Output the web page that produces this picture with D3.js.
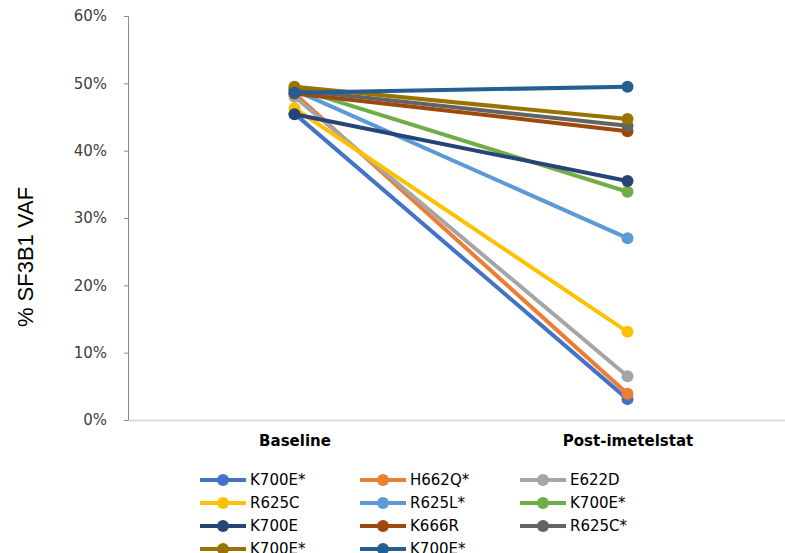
<!DOCTYPE html>
<html lang="en">
<head>
<meta charset="utf-8">
<title>SF3B1 VAF</title>
<script src="https://d3js.org/d3.v7.min.js"></script>
<style>
  body { margin: 0; background: #fff; }
  text { font-family: "Liberation Sans", Arial, sans-serif; }
</style>
</head>
<body>
<script>
// data
var timepoints = ["Baseline", "Post-imetelstat"];
var mutations = ["K700E*", "H662Q*", "E622D", "R625C", "R625L*", "K700E*", "K700E", "K666R", "R625C*", "K700E*", "K700E*"];
var baseline = [45.5, 48.5, 48.0, 46.3, 49.0, 49.3, 45.4, 48.5, 49.0, 49.5, 48.6];
var post     = [3.1, 3.9, 6.5, 13.1, 27.0, 33.9, 35.5, 42.9, 43.7, 44.7, 49.5];
var colors = ["#4472C4", "#ED7D31", "#A5A5A5", "#FFC000", "#5B9BD5", "#70AD47", "#264478", "#9E480E", "#636363", "#997300", "#255E91"];
var yTicks = [0, 10, 20, 30, 40, 50, 60];

var w = 785, h = 553;
var plotL = 128, plotR = 794, plotT = 16, plotB = 420;

var svg = d3.select("body").append("svg")
  .attr("width", w).attr("height", h);

var x = d3.scalePoint().domain(timepoints).range([plotL, plotR]).padding(0.5);
var y = d3.scaleLinear().domain([0, 60]).range([plotB, plotT]);

// y axis
var yAxis = svg.append("g").attr("transform", "translate(" + plotL + ",0)")
  .call(d3.axisLeft(y).tickValues(yTicks).tickSize(4).tickFormat(function(d) { return d + "%"; }));
yAxis.select(".domain").attr("stroke", "#8c8c8c");
yAxis.selectAll(".tick line").attr("stroke", "#8c8c8c");
yAxis.selectAll(".tick text")
  .attr("x", -21)
  .attr("fill", "#404040")
  .style("font-family", "'DejaVu Sans', sans-serif")
  .style("font-size", "15px");

// x axis
var xAxis = svg.append("g").attr("transform", "translate(0," + plotB + ")")
  .call(d3.axisBottom(x).tickSize(0).tickPadding(15));
xAxis.select(".domain").attr("stroke", "#d0d0d0").attr("stroke-width", 1.5);
xAxis.selectAll(".tick text")
  .attr("fill", "#000")
  .style("font-family", "'DejaVu Sans', sans-serif")
  .style("font-size", "15px")
  .style("font-weight", "bold");

// y title
svg.append("text")
  .attr("transform", "translate(33,257) rotate(-90)")
  .attr("text-anchor", "middle")
  .style("font-size", "22px")
  .attr("fill", "#000")
  .text("% SF3B1 VAF");

// series
var series = mutations.map(function(m, i) {
  return { name: m, color: colors[i], values: [baseline[i], post[i]] };
});

var line = d3.line()
  .x(function(d, i) { return x(timepoints[i]); })
  .y(function(d) { return y(d); });

var g = svg.selectAll(".series").data(series).enter().append("g");
g.append("path")
  .attr("d", function(d) { return line(d.values); })
  .attr("fill", "none")
  .attr("stroke", function(d) { return d.color; })
  .attr("stroke-width", 4);
g.selectAll("circle").data(function(d) { return d.values.map(function(v, i) { return { v: v, i: i, c: d.color }; }); })
  .enter().append("circle")
  .attr("cx", function(d) { return x(timepoints[d.i]); })
  .attr("cy", function(d) { return y(d.v); })
  .attr("r", 6)
  .attr("fill", function(d) { return d.c; });

// legend
var colX = [200, 360, 520];
var rowY = [480, 503, 526, 549];
var lg = svg.selectAll(".legend").data(series).enter().append("g")
  .attr("transform", function(d, i) { return "translate(" + colX[i % 3] + "," + rowY[Math.floor(i / 3)] + ")"; });
lg.append("line")
  .attr("x1", 0).attr("x2", 46)
  .attr("stroke", function(d) { return d.color; })
  .attr("stroke-width", 4);
lg.append("circle")
  .attr("cx", 23).attr("r", 6)
  .attr("fill", function(d) { return d.color; });
lg.append("text")
  .attr("x", 50).attr("dy", "0.36em")
  .style("font-family", "'DejaVu Sans', sans-serif")
  .style("font-size", "15px")
  .attr("fill", "#000")
  .text(function(d) { return d.name; });
</script>
</body>
</html>
